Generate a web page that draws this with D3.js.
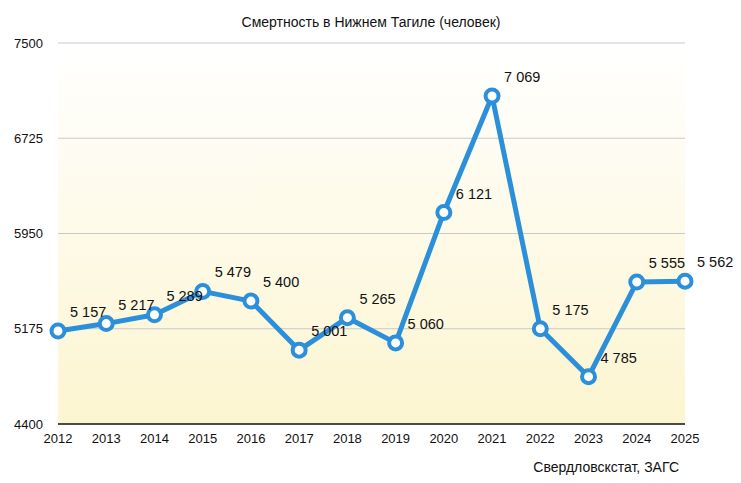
<!DOCTYPE html>
<html>
<head>
<meta charset="utf-8">
<script src="https://cdn.jsdelivr.net/npm/d3@7"></script>
<style>
  body { margin: 0; background: #fff; }
  svg { display: block; font-family: "Liberation Sans", Arial, sans-serif; }
</style>
</head>
<body>
<svg id="chart" width="741" height="483"></svg>
<script>
const years = [2012, 2013, 2014, 2015, 2016, 2017, 2018, 2019, 2020, 2021, 2022, 2023, 2024, 2025];
const deaths = [5157, 5217, 5289, 5479, 5400, 5001, 5265, 5060, 6121, 7069, 5175, 4785, 5555, 5562];
const yTicks = [4400, 5175, 5950, 6725, 7500];
const title = "Смертность в Нижнем Тагиле (человек)";
const source = "Свердловскстат, ЗАГС";

const svg = d3.select("#chart");
const margin = { top: 43, right: 56, bottom: 59, left: 58 };
const width = +svg.attr("width");
const height = +svg.attr("height");

const x = d3.scalePoint()
    .domain(years)
    .range([margin.left, width - margin.right]);

const y = d3.scaleLinear()
    .domain([4400, 7500])
    .range([height - margin.bottom, margin.top]);

// background gradient
const grad = svg.append("defs").append("linearGradient")
    .attr("id", "bg").attr("x1", 0).attr("y1", 0).attr("x2", 0).attr("y2", 1);
grad.append("stop").attr("offset", "0%").attr("stop-color", "#ffffff");
grad.append("stop").attr("offset", "100%").attr("stop-color", "#fcf5d0");

svg.append("rect")
    .attr("x", margin.left)
    .attr("y", y(7500))
    .attr("width", width - margin.right - margin.left)
    .attr("height", y(4400) - y(7500))
    .attr("fill", "url(#bg)");

// grid lines
svg.append("g")
    .selectAll("line")
    .data(yTicks.filter(d => d !== 4400))
    .enter().append("line")
    .attr("x1", margin.left)
    .attr("x2", width - margin.right)
    .attr("y1", d => y(d))
    .attr("y2", d => y(d))
    .attr("stroke", "#c9c9c9")
    .attr("stroke-width", 1);

// bottom axis line
svg.append("line")
    .attr("x1", margin.left)
    .attr("x2", width - margin.right)
    .attr("y1", y(4400))
    .attr("y2", y(4400))
    .attr("stroke", "#111")
    .attr("stroke-width", 1.5);

// y tick labels
svg.append("g")
    .selectAll("text")
    .data(yTicks)
    .enter().append("text")
    .attr("x", 43)
    .attr("y", d => y(d))
    .attr("dy", "0.35em")
    .attr("text-anchor", "end")
    .attr("font-size", 13)
    .attr("fill", "#111")
    .text(d => d);

// x tick labels
svg.append("g")
    .selectAll("text")
    .data(years)
    .enter().append("text")
    .attr("x", d => x(d))
    .attr("y", y(4400) + 14)
    .attr("dy", "0.35em")
    .attr("text-anchor", "middle")
    .attr("font-size", 13)
    .attr("fill", "#111")
    .text(d => d);

// title
svg.append("text")
    .attr("x", 371)
    .attr("y", 22)
    .attr("dy", "0.35em")
    .attr("text-anchor", "middle")
    .attr("font-size", 14)
    .attr("fill", "#111")
    .text(title);

// source
svg.append("text")
    .attr("x", 679)
    .attr("y", 467)
    .attr("dy", "0.35em")
    .attr("text-anchor", "end")
    .attr("font-size", 14)
    .attr("fill", "#111")
    .text(source);

const data = years.map((yr, i) => ({ year: yr, value: deaths[i] }));

// line
const line = d3.line().x(d => x(d.year)).y(d => y(d.value));
svg.append("path")
    .datum(data)
    .attr("d", line)
    .attr("fill", "none")
    .attr("stroke", "#2b8fd9")
    .attr("stroke-width", 5)
    .attr("stroke-linejoin", "round");

// markers
svg.append("g")
    .selectAll("circle")
    .data(data)
    .enter().append("circle")
    .attr("cx", d => x(d.year))
    .attr("cy", d => y(d.value))
    .attr("r", 6.5)
    .attr("fill", "#fff")
    .attr("stroke", "#2b8fd9")
    .attr("stroke-width", 4);

// value labels
svg.append("g")
    .selectAll("text")
    .data(data)
    .enter().append("text")
    .attr("x", d => x(d.year) + 12)
    .attr("y", d => y(d.value) - 19)
    .attr("dy", "0.35em")
    .attr("text-anchor", "start")
    .attr("font-size", 14.5)
    .attr("fill", "#111")
    .text(d => d3.format(",")(d.value).replace(",", " "));
</script>
</body>
</html>
